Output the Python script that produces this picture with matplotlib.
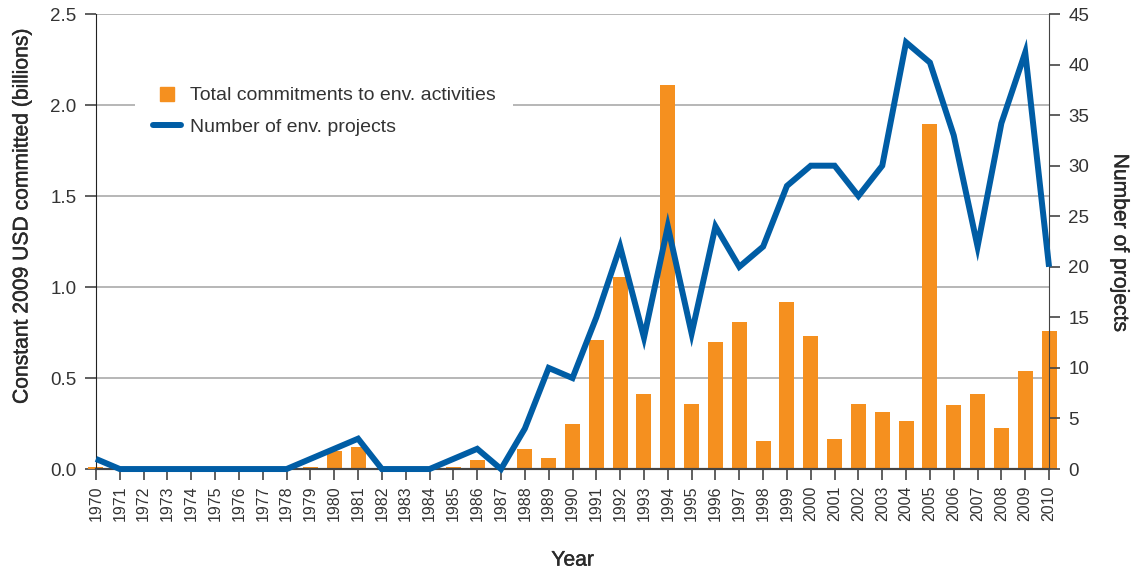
import numpy as np
import matplotlib
matplotlib.use("Agg")
import matplotlib.pyplot as plt
import matplotlib.patheffects as pe
from matplotlib.lines import Line2D

plt.rcParams['font.family'] = ['Liberation Sans', 'DejaVu Sans']

years = list(range(1970, 2011))

# commitments to environmental activities, constant 2009 USD (billions)
commitments = [0.01, 0, 0, 0, 0, 0, 0, 0, 0, 0.01,
               0.10, 0.12, 0, 0, 0, 0.01, 0.05, 0, 0.11, 0.06,
               0.25, 0.71, 1.055, 0.41, 2.11, 0.36, 0.70, 0.81, 0.155, 0.92,
               0.73, 0.165, 0.36, 0.315, 0.265, 1.895, 0.35, 0.41, 0.225, 0.54,
               0.76]

# number of environmental projects
projects = [1, 0, 0, 0, 0, 0, 0, 0, 0, 1,
            2, 3, 0, 0, 0, 1, 2, 0, 4, 10,
            9, 15, 22, 13, 24, 13.4, 24, 20, 22, 28,
            30, 30, 27, 30, 42.2, 40.2, 33, 22, 34.2, 41.2,
            20]

orange = '#F5901F'
blue = '#005DA5'
text_col = '#333333'
# slightly heavier than regular for the axis titles
medium = [pe.withStroke(linewidth=0.3, foreground='#2a2a2a')]
label_font = dict(color='#2a2a2a', path_effects=medium)

fig = plt.figure(figsize=(11.33, 5.72), dpi=100)
ax = fig.add_axes([0.0847, 0.180, 0.8412, 0.7955])
ax2 = ax.twinx()

ax.bar(years, commitments, width=0.63, color=orange, clip_on=False, zorder=2)
ax.set_xlim(1970, 2010)
ax.set_ylim(0, 2.5)
ax.set_yticks([0, 0.5, 1.0, 1.5, 2.0, 2.5])
ax.set_yticklabels(['0.0', '0.5', '1.0', '1.5', '2.0', '2.5'])
ax.yaxis.grid(True, color='#AAAAAA', lw=1.2, zorder=0)
ax.set_axisbelow(True)
ax.set_xticks(years)
ax.set_xticklabels([str(y) for y in years], rotation=90)

ax2.plot(years, projects, color=blue, lw=4.3, solid_joinstyle='miter',
         solid_capstyle='butt', clip_on=False, zorder=3)
ax2.set_ylim(0, 45)
ax2.set_yticks(range(0, 46, 5))

for a in (ax, ax2):
    a.tick_params(axis='both', direction='out', length=8, width=1.2,
                  colors='#444444', labelcolor=text_col, labelsize=13.5, pad=6)
    a.spines['top'].set_visible(False)
    a.spines['left'].set_color('#222222')
    a.spines['right'].set_color('#444444')
    a.spines['bottom'].set_color('#444444')
    a.spines['bottom'].set_linewidth(1.5)
ax.tick_params(axis='x', labelsize=11.5, pad=4)
ax2.spines['left'].set_visible(False)
ax.spines['right'].set_visible(False)

ax.set_ylabel('Constant 2009 USD committed (billions)', fontsize=15.2,
              va='center', **label_font)
ax.yaxis.set_label_coords(-0.0777, 0.556)
ax2.set_ylabel('Number of projects', fontsize=15.2, rotation=-90,
               va='center', **label_font)
ax2.yaxis.set_label_coords(1.0745, 0.497)
ax.set_xlabel('Year', fontsize=15.2, labelpad=21, **label_font)

handles = [Line2D([0], [0], marker='s', markersize=10.5, color=orange,
                  linestyle='none'),
           Line2D([0], [0], color=blue, lw=4.3, solid_capstyle='round')]
labels = ['Total commitments to env. activities', 'Number of env. projects']
leg = ax2.legend(handles, labels, loc='upper left',
                 bbox_to_anchor=(0.031, 0.9), frameon=True, fontsize=14,
                 handlelength=1.45, labelspacing=0.72, borderpad=0.9,
                 handletextpad=0.45, fancybox=False)
leg.get_frame().set_facecolor('white')
leg.get_frame().set_edgecolor('none')
leg.get_frame().set_alpha(1)
for t in leg.get_texts():
    t.set_color(text_col)

fig.savefig('out.png', dpi=100)
